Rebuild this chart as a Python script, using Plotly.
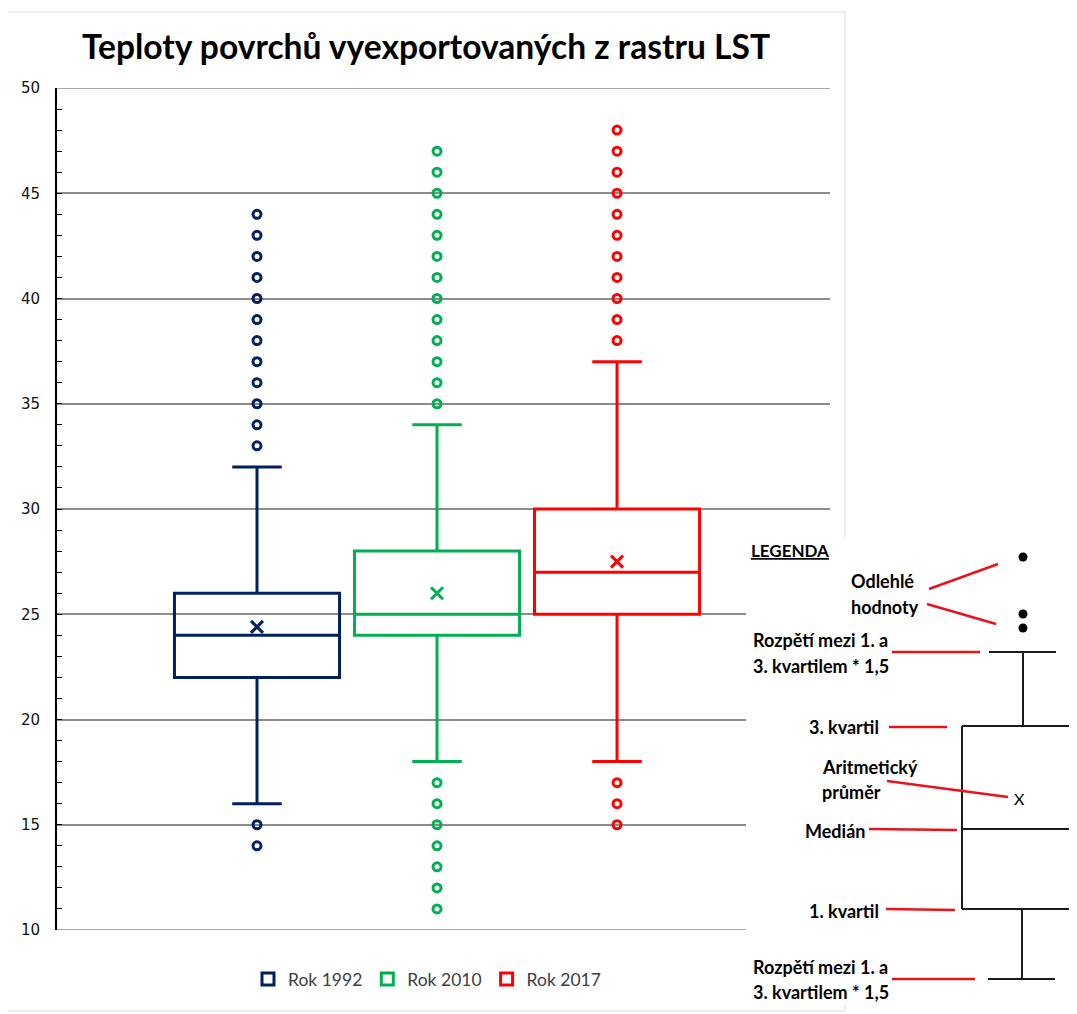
import plotly.graph_objects as go

# ---------------- data ----------------
series = ["Rok 1992", "Rok 2010", "Rok 2017"]
colors = ["#002060", "#00B050", "#FF0000"]
q1 = [22, 24, 25]
median = [24, 25, 27]
q3 = [26, 28, 30]
lower_fence = [16, 18, 18]
upper_fence = [32, 34, 37]
mean = [24.4, 26.0, 27.5]
outliers_1992 = [14, 15, 33, 34, 35, 36, 37, 38, 39, 40, 41, 42, 43, 44]
outliers_2010 = [11, 12, 13, 14, 15, 16, 17, 35, 36, 37, 38, 39, 40, 41, 42, 43, 44, 45, 46, 47]
outliers_2017 = [15, 16, 17, 38, 39, 40, 41, 42, 43, 44, 45, 46, 47, 48]
outliers = [outliers_1992, outliers_2010, outliers_2017]
y_ticks = [10, 15, 20, 25, 30, 35, 40, 45, 50]

# ---------------- layout geometry (page pixels) ----------------
OFF = 8                       # default page body margin
W, H = 1077 - OFF, 1014 - OFF
L, R, T, B = 57, 830, 88, 930  # plot area in page pixels


def px(x):
    return (x - L) / (R - L)


def py(y):
    return (B - y) / (B - T)


fig = go.Figure()

for i, name in enumerate(series):
    fig.add_trace(go.Box(
        x=[i], q1=[q1[i]], median=[median[i]], q3=[q3[i]],
        lowerfence=[lower_fence[i]], upperfence=[upper_fence[i]],
        name=name, width=0.917, whiskerwidth=0.3,
        line=dict(color=colors[i], width=3), fillcolor="rgba(255,255,255,0)",
        boxpoints=False, legendgroup=name, showlegend=True,
    ))
    fig.add_trace(go.Scatter(
        x=[i] * len(outliers[i]), y=outliers[i], mode="markers",
        marker=dict(symbol="circle-open", size=8, color=colors[i], line=dict(width=3, color=colors[i])),
        legendgroup=name, showlegend=False, hoverinfo="y",
    ))
    fig.add_trace(go.Scatter(
        x=[i], y=[mean[i]], mode="markers",
        marker=dict(symbol="x-thin-open", size=12, color=colors[i], line=dict(width=3, color=colors[i])),
        legendgroup=name, showlegend=False, hoverinfo="y",
    ))

shapes = []
# top & bottom gridlines (plotly drops gridlines on the range edges)
for yv in (y_ticks[0], y_ticks[-1]):
    shapes.append(dict(type="line", xref="paper", yref="y", x0=0, x1=1, y0=yv, y1=yv,
                       line=dict(color="#8C8C8C", width=1.5), layer="below"))
# outer chart border
shapes.append(dict(type="rect", xref="paper", yref="paper", x0=px(5), x1=px(845), y0=py(12), y1=py(1011),
                   line=dict(color="#D9D9D9", width=1), fillcolor="rgba(0,0,0,0)", layer="above"))
# inset legend white background
shapes.append(dict(type="rect", xref="paper", yref="paper", x0=px(746), x1=px(1090), y0=py(537), y1=py(1005),
                   line=dict(width=0), fillcolor="white", layer="above"))

black = "#1a1a1a"
red = "#E8141C"


def seg(x0, y0, x1, y1, color, width):
    shapes.append(dict(type="line", xref="paper", yref="paper", x0=px(x0), y0=py(y0), x1=px(x1), y1=py(y1),
                       line=dict(color=color, width=width), layer="above"))


# inset box diagram
seg(989, 652, 1056, 652, black, 2)      # upper cap
seg(1023, 652, 1023, 726, black, 2)     # upper whisker
seg(962, 726, 1090, 726, black, 2)      # box top
seg(962, 726, 962, 909, black, 2)       # box left
seg(962, 909, 1090, 909, black, 2)      # box bottom
seg(962, 829, 1090, 829, black, 2)      # median
seg(1022, 909, 1022, 979, black, 2)     # lower whisker
seg(988, 979, 1055, 979, black, 2)      # lower cap
for (cx, cy) in [(1023, 557), (1023, 614), (1023, 628)]:
    shapes.append(dict(type="circle", xref="paper", yref="paper", x0=px(cx - 4.5), x1=px(cx + 4.5),
                       y0=py(cy - 4.5), y1=py(cy + 4.5), fillcolor="black", line=dict(width=0), layer="above"))
# red pointer lines
seg(929, 589, 998, 564, red, 2.5)
seg(927, 604, 996, 624, red, 2.5)
seg(892, 652, 980, 652, red, 2.5)
seg(889, 727, 947, 727, red, 2.5)
seg(887, 781, 1008, 797, red, 2.5)
seg(869, 829, 957, 830, red, 2.5)
seg(886, 909, 955, 910, red, 2.5)
seg(892, 979, 975, 979, red, 2.5)

annotations = []


def txt(x, y, s, size=18, bold=True, anchor="left"):
    annotations.append(dict(xref="paper", yref="paper", x=px(x), y=py(y), text=(f"<b>{s}</b>" if bold else s),
                            showarrow=False, xanchor=anchor, yanchor="middle",
                            font=dict(family="Lato", size=size, color="black")))


txt(749, 550, "<u>LEGENDA</u>", size=17)
txt(849, 581, "Odlehlé")
txt(849, 607, "hodnoty")
txt(751, 640, "Rozpětí mezi 1. a")
txt(751, 666, "3. kvartilem * 1,5")
txt(807, 727, "3. kvartil")
txt(820, 767, "Aritmetický")
txt(820, 792, "průměr")
txt(1019, 798, "X", size=16, bold=False, anchor="center")
txt(803, 831, "Medián")
txt(807, 911, "1. kvartil")
txt(751, 967, "Rozpětí mezi 1. a")
txt(751, 992, "3. kvartilem * 1,5")

fig.update_layout(
    width=W, height=H,
    margin=dict(l=L - OFF, r=W - (R - OFF), t=T - OFF, b=H - (B - OFF), pad=0),
    paper_bgcolor="white", plot_bgcolor="white",
    title=dict(text="<b>Teploty povrchů vyexportovaných z rastru LST</b>", x=(426 - OFF) / W, y=1 - (47 - OFF) / H,
               xanchor="center", yanchor="middle", font=dict(family="Lato", size=33.6, color="black")),
    xaxis=dict(range=[-1.111, 3.183], visible=False),
    yaxis=dict(range=[10, 50], tickvals=y_ticks, showgrid=True, gridcolor="#8C8C8C", gridwidth=1.5,
               zeroline=False, showline=True, linecolor="black", linewidth=2,
               ticks="inside", ticklen=5, tickcolor="black", tickwidth=1,
               minor=dict(dtick=1, ticks="inside", ticklen=5, tickcolor="black", showgrid=False),
               tickfont=dict(family="DejaVu Sans", size=15, color="#111"), ticklabelstandoff=12),
    showlegend=True,
    legend=dict(orientation="h", x=px(427), y=py(979), xanchor="center", yanchor="middle",
                font=dict(family="Lato", size=17.5, color="#404040"), itemwidth=30, bgcolor="rgba(0,0,0,0)"),
    shapes=shapes, annotations=annotations,
)

fig.write_html("out.html")
